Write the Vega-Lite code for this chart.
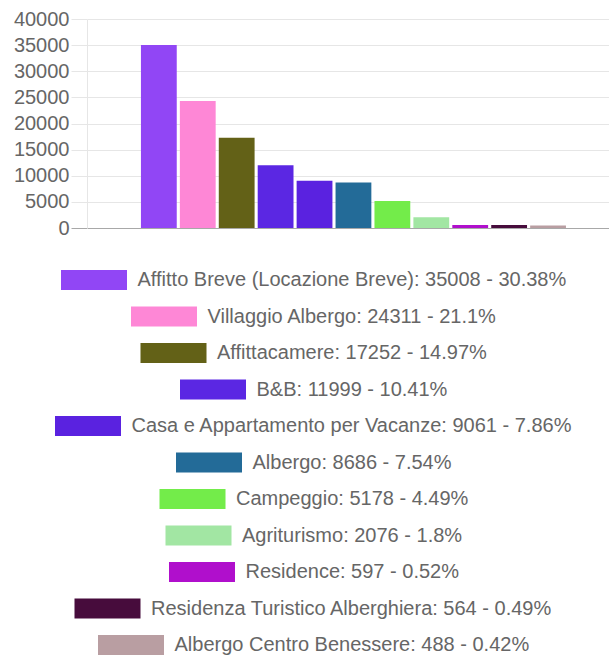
{
  "$schema": "https://vega.github.io/schema/vega-lite/v6.json",
  "padding": {"left": 13, "top": 9, "right": 0, "bottom": 0},
  "background": "white",
  "data": {
    "values": [
      {"tipo": "Affitto Breve (Locazione Breve)", "valore": 35008, "etichetta": "Affitto Breve (Locazione Breve): 35008 - 30.38%"},
      {"tipo": "Villaggio Albergo", "valore": 24311, "etichetta": "Villaggio Albergo: 24311 - 21.1%"},
      {"tipo": "Affittacamere", "valore": 17252, "etichetta": "Affittacamere: 17252 - 14.97%"},
      {"tipo": "B&B", "valore": 11999, "etichetta": "B&B: 11999 - 10.41%"},
      {"tipo": "Casa e Appartamento per Vacanze", "valore": 9061, "etichetta": "Casa e Appartamento per Vacanze: 9061 - 7.86%"},
      {"tipo": "Albergo", "valore": 8686, "etichetta": "Albergo: 8686 - 7.54%"},
      {"tipo": "Campeggio", "valore": 5178, "etichetta": "Campeggio: 5178 - 4.49%"},
      {"tipo": "Agriturismo", "valore": 2076, "etichetta": "Agriturismo: 2076 - 1.8%"},
      {"tipo": "Residence", "valore": 597, "etichetta": "Residence: 597 - 0.52%"},
      {"tipo": "Residenza Turistico Alberghiera", "valore": 564, "etichetta": "Residenza Turistico Alberghiera: 564 - 0.49%"},
      {"tipo": "Albergo Centro Benessere", "valore": 488, "etichetta": "Albergo Centro Benessere: 488 - 0.42%"}
    ]
  },
  "spacing": 0,
  "vconcat": [
    {
      "width": 528,
      "height": 209,
      "mark": "bar",
      "encoding": {
        "x": {
          "field": "tipo", "type": "nominal", "sort": null, "axis": null,
          "scale": {
            "domain": ["Affitto Breve (Locazione Breve)", "Villaggio Albergo", "Affittacamere", "B&B", "Casa e Appartamento per Vacanze", "Albergo", "Campeggio", "Agriturismo", "Residence", "Residenza Turistico Alberghiera", "Albergo Centro Benessere", " "],
            "paddingInner": 0.08, "paddingOuter": 0.823, "align": 0.842
          }
        },
        "y": {
          "field": "valore", "type": "quantitative",
          "scale": {"domain": [0, 40000], "nice": false},
          "axis": {
            "title": null,
            "values": [0, 5000, 10000, 15000, 20000, 25000, 30000, 35000, 40000],
            "format": "d",
            "labelFont": "Liberation Sans",
            "labelFontSize": 20,
            "labelColor": "#666666",
            "labelPadding": 2,
            "tickSize": 16,
            "tickColor": {"condition": {"test": "datum.value === 0", "value": "#a8a8a8"}, "value": "#e6e6e6"},
            "gridColor": {"condition": {"test": "datum.value === 0", "value": "#a8a8a8"}, "value": "#e6e6e6"},
            "domainColor": "#e6e6e6",
            "grid": true
          }
        },
        "color": {
          "field": "tipo", "type": "nominal", "sort": null, "legend": null,
          "scale": {"range": ["#9146f5", "#fe87d6", "#636117", "#5b27e3", "#5a22e0", "#236b98", "#73ec4a", "#a2e6a3", "#b00fcc", "#470c3c", "#b99ea2"]}
        }
      }
    },
    {
      "width": 477,
      "height": 1,
      "layer": [
        {"transform": [{"filter": "datum.tipo === 'Affitto Breve (Locazione Breve)'"}], "mark": {"type": "bar", "opacity": 0},
         "encoding": {"color": {"field": "etichetta", "type": "nominal", "scale": {"range": ["#9146f5"]}, "legend": {"symbolType": "M-3.3,-1L3.3,-1L3.3,1L-3.3,1Z", "symbolOpacity": 1}}}},
        {"transform": [{"filter": "datum.tipo === 'Villaggio Albergo'"}], "mark": {"type": "bar", "opacity": 0},
         "encoding": {"color": {"field": "etichetta", "type": "nominal", "scale": {"range": ["#fe87d6"]}, "legend": {"symbolType": "M-3.3,-1L3.3,-1L3.3,1L-3.3,1Z", "symbolOpacity": 1}}}},
        {"transform": [{"filter": "datum.tipo === 'Affittacamere'"}], "mark": {"type": "bar", "opacity": 0},
         "encoding": {"color": {"field": "etichetta", "type": "nominal", "scale": {"range": ["#636117"]}, "legend": {"symbolType": "M-3.3,-1L3.3,-1L3.3,1L-3.3,1Z", "symbolOpacity": 1}}}},
        {"transform": [{"filter": "datum.tipo === 'B&B'"}], "mark": {"type": "bar", "opacity": 0},
         "encoding": {"color": {"field": "etichetta", "type": "nominal", "scale": {"range": ["#5b27e3"]}, "legend": {"symbolType": "M-3.3,-1L3.3,-1L3.3,1L-3.3,1Z", "symbolOpacity": 1}}}},
        {"transform": [{"filter": "datum.tipo === 'Casa e Appartamento per Vacanze'"}], "mark": {"type": "bar", "opacity": 0},
         "encoding": {"color": {"field": "etichetta", "type": "nominal", "scale": {"range": ["#5a22e0"]}, "legend": {"symbolType": "M-3.3,-1L3.3,-1L3.3,1L-3.3,1Z", "symbolOpacity": 1}}}},
        {"transform": [{"filter": "datum.tipo === 'Albergo'"}], "mark": {"type": "bar", "opacity": 0},
         "encoding": {"color": {"field": "etichetta", "type": "nominal", "scale": {"range": ["#236b98"]}, "legend": {"symbolType": "M-3.3,-1L3.3,-1L3.3,1L-3.3,1Z", "symbolOpacity": 1}}}},
        {"transform": [{"filter": "datum.tipo === 'Campeggio'"}], "mark": {"type": "bar", "opacity": 0},
         "encoding": {"color": {"field": "etichetta", "type": "nominal", "scale": {"range": ["#73ec4a"]}, "legend": {"symbolType": "M-3.3,-1L3.3,-1L3.3,1L-3.3,1Z", "symbolOpacity": 1}}}},
        {"transform": [{"filter": "datum.tipo === 'Agriturismo'"}], "mark": {"type": "bar", "opacity": 0},
         "encoding": {"color": {"field": "etichetta", "type": "nominal", "scale": {"range": ["#a2e6a3"]}, "legend": {"symbolType": "M-3.3,-1L3.3,-1L3.3,1L-3.3,1Z", "symbolOpacity": 1}}}},
        {"transform": [{"filter": "datum.tipo === 'Residence'"}], "mark": {"type": "bar", "opacity": 0},
         "encoding": {"color": {"field": "etichetta", "type": "nominal", "scale": {"range": ["#b00fcc"]}, "legend": {"symbolType": "M-3.3,-1L3.3,-1L3.3,1L-3.3,1Z", "symbolOpacity": 1}}}},
        {"transform": [{"filter": "datum.tipo === 'Residenza Turistico Alberghiera'"}], "mark": {"type": "bar", "opacity": 0},
         "encoding": {"color": {"field": "etichetta", "type": "nominal", "scale": {"range": ["#470c3c"]}, "legend": {"symbolType": "M-3.3,-1L3.3,-1L3.3,1L-3.3,1Z", "symbolOpacity": 1}}}},
        {"transform": [{"filter": "datum.tipo === 'Albergo Centro Benessere'"}], "mark": {"type": "bar", "opacity": 0},
         "encoding": {"color": {"field": "etichetta", "type": "nominal", "scale": {"range": ["#b99ea2"]}, "legend": {"symbolType": "M-3.3,-1L3.3,-1L3.3,1L-3.3,1Z", "symbolOpacity": 1}}}}
      ],
      "resolve": {"scale": {"color": "independent"}}
    }
  ],
  "resolve": {"scale": {"color": "independent"}, "legend": {"color": "independent"}},
  "config": {
    "view": {"stroke": null},
    "legend": {
      "orient": "bottom",
      "title": null,
      "labelFont": "Liberation Sans",
      "labelFontSize": 20,
      "labelColor": "#666666",
      "labelLimit": 0,
      "labelOffset": 33.5,
      "symbolSize": 400,
      "symbolStrokeWidth": 0,
      "symbolOpacity": 1,
      "padding": 0,
      "offset": 31,
      "layout": {"bottom": {"anchor": "middle", "direction": "vertical", "center": true, "margin": 16.5}}
    }
  }
}
